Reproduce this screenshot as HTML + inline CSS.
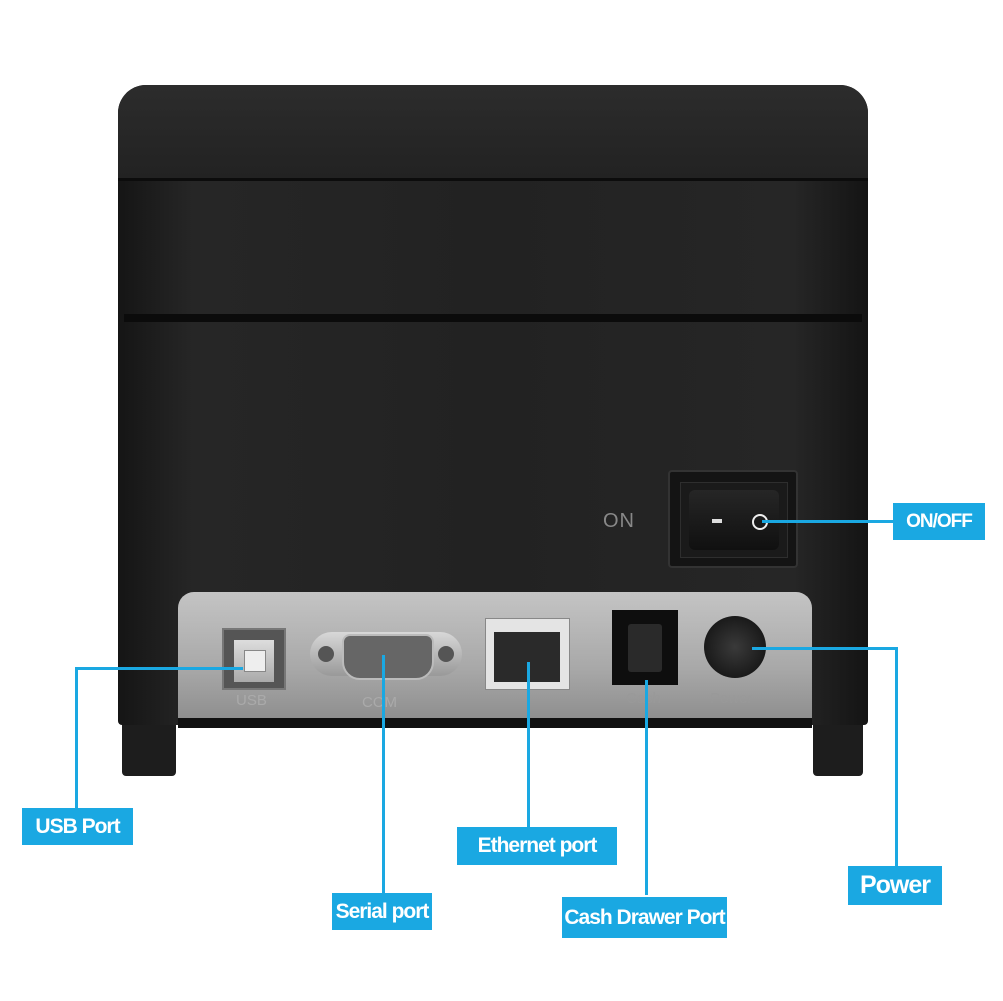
<!DOCTYPE html>
<html><head><style>
html,body{margin:0;padding:0;background:#fff;}
body{width:1003px;height:1001px;position:relative;overflow:hidden;font-family:"Liberation Sans",sans-serif;}
.a{position:absolute;}
.lbl{position:absolute;background:#1aa8e2;color:#fff;font-weight:bold;font-size:21px;text-align:center;letter-spacing:-1px;transform-origin:center;}
.ln{position:absolute;background:#1aa8e2;}
</style></head><body>
<!-- feet -->
<div class="a" style="left:122px;top:700px;width:54px;height:76px;background:#1d1d1d;border-radius:0 0 4px 4px"></div>
<div class="a" style="left:813px;top:700px;width:50px;height:76px;background:#1d1d1d;border-radius:0 0 4px 4px"></div>
<!-- body -->
<div class="a" style="left:118px;top:85px;width:750px;height:640px;background:linear-gradient(90deg,#151515,#262626 10%,#222 50%,#262626 90%,#141414);border-radius:28px 28px 4px 4px"></div>
<div class="a" style="left:118px;top:85px;width:750px;height:95px;background:linear-gradient(180deg,#2c2c2c,#222);border-radius:28px 28px 0 0"></div>
<div class="a" style="left:118px;top:178px;width:750px;height:3px;background:#0c0c0c"></div>
<div class="a" style="left:124px;top:314px;width:738px;height:8px;background:#0b0b0b"></div>
<!-- switch -->
<div class="a" style="left:668px;top:470px;width:130px;height:98px;background:#141414;border:2px solid #333;border-radius:4px;box-sizing:border-box"></div>
<div class="a" style="left:680px;top:482px;width:106px;height:74px;background:#1a1a1a;border:1px solid #2e2e2e"></div>
<div class="a" style="left:689px;top:490px;width:90px;height:60px;background:linear-gradient(180deg,#262626,#101010);border-radius:6px"></div>
<div class="a" style="left:712px;top:519px;width:10px;height:4px;background:#ddd"></div>
<div class="a" style="left:752px;top:514px;width:12px;height:12px;border:2px solid #eee;border-radius:50%"></div>
<div class="a" style="left:603px;top:510px;color:#888;font-size:20px;letter-spacing:1px">ON</div>
<!-- port panel -->
<div class="a" style="left:178px;top:592px;width:634px;height:128px;background:linear-gradient(180deg,#c4c4c4,#a8a8a8 60%,#8e8e8e);border-radius:16px 16px 0 0"></div>
<div class="a" style="left:178px;top:718px;width:634px;height:10px;background:#111"></div>
<!-- USB -->
<div class="a" style="left:222px;top:628px;width:64px;height:62px;background:#555;border:2px solid #777;box-sizing:border-box"></div>
<div class="a" style="left:234px;top:640px;width:40px;height:42px;background:linear-gradient(#ddd,#aaa);"></div>
<div class="a" style="left:244px;top:650px;width:20px;height:20px;background:#eee;border:1px solid #888"></div>
<!-- COM -->
<div class="a" style="left:310px;top:632px;width:152px;height:44px;background:linear-gradient(#d8d8d8,#999);border-radius:22px"></div>
<div class="a" style="left:318px;top:646px;width:16px;height:16px;background:#555;border-radius:50%"></div>
<div class="a" style="left:438px;top:646px;width:16px;height:16px;background:#555;border-radius:50%"></div>
<div class="a" style="left:342px;top:634px;width:88px;height:42px;background:#666;border-radius:8px 8px 18px 18px;border:2px solid #bbb"></div>
<!-- Ethernet -->
<div class="a" style="left:485px;top:618px;width:83px;height:70px;background:#e4e4e4;border:1px solid #888"></div>
<div class="a" style="left:494px;top:632px;width:66px;height:50px;background:#2a2a2a"></div>
<!-- Cash -->
<div class="a" style="left:612px;top:610px;width:66px;height:75px;background:#0e0e0e"></div>
<div class="a" style="left:628px;top:624px;width:34px;height:48px;background:#2a2a2a;border-radius:3px"></div>
<!-- Power -->
<div class="a" style="left:704px;top:616px;width:62px;height:62px;background:radial-gradient(#3a3a3a,#1a1a1a 70%,#666);border-radius:50%"></div>
<!-- panel labels -->
<div class="a" style="left:236px;top:692px;color:#aaa;font-size:15px">USB</div>
<div class="a" style="left:362px;top:694px;color:#aaa;font-size:15px">COM</div>
<div class="a" style="left:626px;top:690px;color:#999;font-size:15px">Cash</div>
<div class="a" style="left:710px;top:690px;color:#999;font-size:15px">Power</div>
<!-- lines -->
<div class="ln" style="left:75px;top:667px;width:168px;height:3px"></div>
<div class="ln" style="left:75px;top:667px;width:3px;height:142px"></div>
<div class="ln" style="left:382px;top:655px;width:3px;height:238px"></div>
<div class="ln" style="left:527px;top:662px;width:3px;height:165px"></div>
<div class="ln" style="left:645px;top:680px;width:3px;height:215px"></div>
<div class="ln" style="left:752px;top:647px;width:146px;height:3px"></div>
<div class="ln" style="left:895px;top:647px;width:3px;height:220px"></div>
<div class="ln" style="left:762px;top:520px;width:132px;height:3px"></div>
<!-- labels -->
<div class="lbl" style="left:22px;top:808px;width:111px;height:37px;line-height:37px">USB Port</div>
<div class="lbl" style="left:332px;top:893px;width:100px;height:37px;line-height:37px">Serial port</div>
<div class="lbl" style="left:457px;top:827px;width:160px;height:38px;line-height:38px">Ethernet port</div>
<div class="lbl" style="left:562px;top:897px;width:165px;height:41px;line-height:41px">Cash Drawer Port</div>
<div class="lbl" style="left:848px;top:866px;width:94px;height:39px;line-height:39px;font-size:25px">Power</div>
<div class="lbl" style="left:893px;top:503px;width:92px;height:37px;line-height:37px;font-size:19px">ON/OFF</div>
</body></html>
